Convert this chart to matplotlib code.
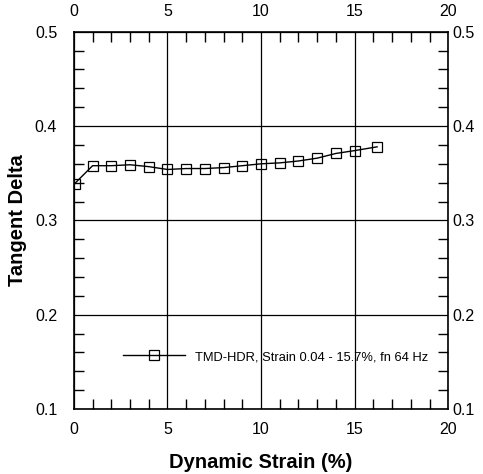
import numpy as np
import matplotlib.pyplot as plt
from matplotlib.ticker import MultipleLocator, NullLocator

plt.rcParams['font.family'] = ['Liberation Sans', 'DejaVu Sans']

strain = [0.04, 1, 2, 3, 4, 5, 6, 7, 8, 9, 10, 11, 12, 13, 14, 15, 16.2]
tan_delta = [0.339, 0.358, 0.358, 0.359, 0.357, 0.354, 0.355, 0.355, 0.356, 0.358,
             0.360, 0.361, 0.363, 0.366, 0.371, 0.374, 0.378]
label = "TMD-HDR, Strain 0.04 - 15.7%, fn 64 Hz"

fig = plt.figure(figsize=(4.83, 4.74), dpi=100)
rect = [0.153, 0.137, 0.775, 0.796]
ax = fig.add_axes(rect)

ax.plot(strain, tan_delta, color='black', lw=1.0, marker='s', markersize=7,
        markerfacecolor='none', markeredgecolor='black', markeredgewidth=0.9, label=label)

ax.set_xlim(0, 20)
ax.set_ylim(0.1, 0.5)
ax.xaxis.set_major_locator(MultipleLocator(5))
ax.xaxis.set_minor_locator(MultipleLocator(1))
ax.yaxis.set_major_locator(MultipleLocator(0.1))
ax.yaxis.set_minor_locator(MultipleLocator(0.02))
ax.grid(True, which='major', color='black', lw=0.9)

ax.tick_params(which='both', direction='in', top=True, right=True,
               labeltop=True, labelright=False, labelsize=11.5, width=1.0)
ax.tick_params(which='major', length=0, pad=9)
ax.tick_params(axis='y', which='major', pad=12)
ax.tick_params(which='minor', length=7)
for s in ax.spines.values():
    s.set_linewidth(1.2)

# overlay axes just for the right-hand labels, which sit closer to the frame
ax2 = fig.add_axes(rect, frameon=False)
ax2.patch.set_visible(False)
ax2.set_ylim(ax.get_ylim())
ax2.xaxis.set_visible(False)
ax2.yaxis.set_major_locator(MultipleLocator(0.1))
ax2.yaxis.set_minor_locator(NullLocator())
ax2.tick_params(axis='y', left=False, labelleft=False, right=True, labelright=True,
                length=0, pad=3, labelsize=11.5)

ax.set_xlabel('Dynamic Strain (%)', fontsize=14.5, fontweight='bold', labelpad=12)
ax.set_ylabel('Tangent Delta', fontsize=14.5, fontweight='bold', labelpad=6)

ax.legend(loc='center left', bbox_to_anchor=(0.1, 0.138), frameon=False,
          fontsize=9.3, handlelength=4.8, handletextpad=0.8)

fig.savefig('out.png', dpi=100)
